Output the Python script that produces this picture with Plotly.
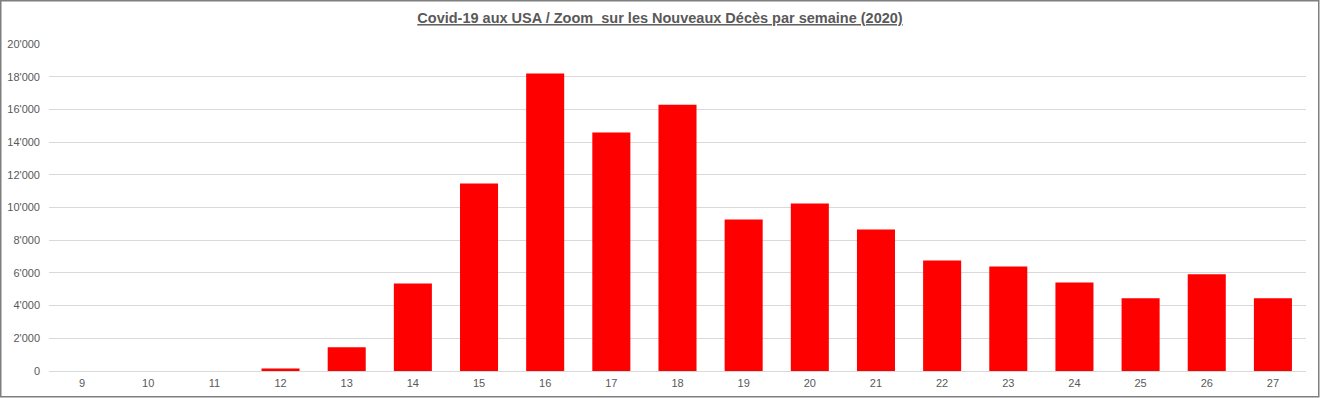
import plotly.graph_objects as go

weeks = ["9", "10", "11", "12", "13", "14", "15", "16", "17", "18",
         "19", "20", "21", "22", "23", "24", "25", "26", "27"]
deaths = [0, 0, 0, 160, 1450, 5350, 11470, 18190, 14580, 16290,
          9270, 10245, 8655, 6765, 6395, 5420, 4445, 5910, 4445]

title_text = "Covid-19 aux USA / Zoom  sur les Nouveaux Décès par semaine (2020)"

W, H = 1320, 398
L, R, T, B = 49, 14, 44, 27
pw, ph = W - L - R, H - T - B

def px_x(x):
    return (x - L) / pw

def px_y(y):
    return (H - B - y) / ph

fig = go.Figure(go.Bar(
    x=weeks, y=deaths,
    marker=dict(color="#FF0000", line=dict(width=0)),
    hovertemplate="%{x}: %{y}<extra></extra>",
))

fig.update_layout(
    template="none",
    width=W, height=H, autosize=False,
    margin=dict(l=L, r=R, t=T, b=B, pad=0, autoexpand=False),
    paper_bgcolor="white", plot_bgcolor="white",
    separators=".'",
    bargap=0.425,
    showlegend=False,
    font=dict(family="Liberation Sans, Arial, sans-serif", size=11, color="#595959"),
    title=dict(
        text="<b><u>" + title_text + "</u></b>",
        x=0.5, xref="container", xanchor="center",
        y=1 - 18 / H, yref="container", yanchor="middle",
        font=dict(family="Liberation Sans, Arial, sans-serif", size=14.5, color="#595959"),
    ),
    xaxis=dict(
        type="category", showgrid=False, showline=False, zeroline=False,
        ticks="", ticklabelstandoff=4, automargin=False,
        tickfont=dict(size=11, color="#595959"),
    ),
    yaxis=dict(
        range=[0, 20000], tickvals=[0, 2000, 4000, 6000, 8000, 10000, 12000, 14000, 16000, 18000, 20000],
        tickformat=",d", showgrid=True, gridcolor="#D9D9D9", gridwidth=1,
        zeroline=True, zerolinecolor="#D9D9D9", zerolinewidth=1,
        showline=False, ticks="", ticklabelstandoff=8, automargin=False,
        tickfont=dict(size=11, color="#595959"),
    ),
    shapes=[dict(
        type="rect", xref="paper", yref="paper",
        x0=px_x(0.75), x1=px_x(1318.75), y0=px_y(0.75), y1=px_y(396.75),
        line=dict(color="#7F7F7F", width=1.5), fillcolor="rgba(0,0,0,0)", layer="above",
    )],
)

fig.write_html(
    "out.html",
    config={"displayModeBar": False},
    post_script=(
        "document.documentElement.style.margin='0';"
        "document.body.style.margin='0';"
        "document.body.style.overflow='hidden';"
    ),
)
